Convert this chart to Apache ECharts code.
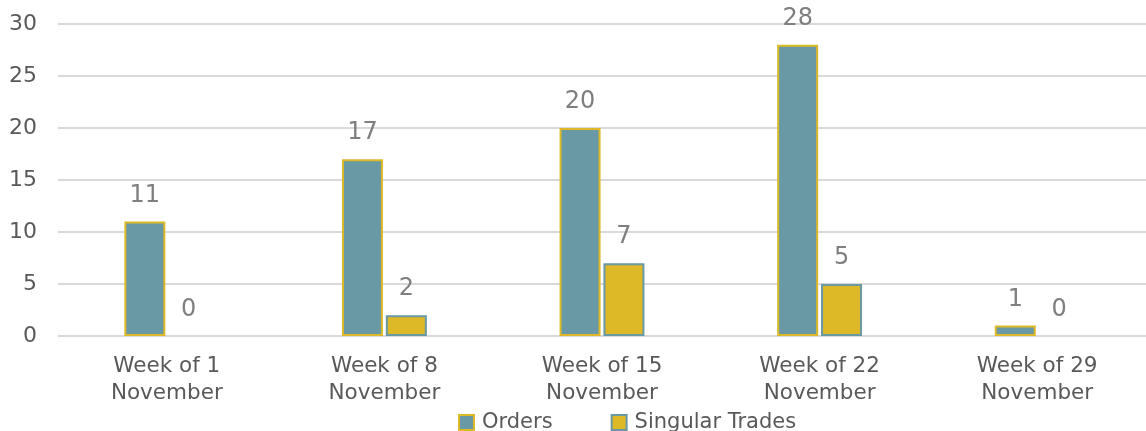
<!DOCTYPE html>
<html>
<head>
<meta charset="utf-8">
<script src="https://cdn.jsdelivr.net/npm/echarts@6/dist/echarts.min.js"></script>
<style>
  html, body { margin: 0; padding: 0; background: #fff; }
  #main { width: 1146px; height: 431px; }
</style>
</head>
<body>
<div id="main"></div>
<script>
var weeks = ['Week of 1\nNovember', 'Week of 8\nNovember', 'Week of 15\nNovember', 'Week of 22\nNovember', 'Week of 29\nNovember'];
var orders = [11, 17, 20, 28, 1];
var singularTrades = [0, 2, 7, 5, 0];
var yTicks = [0, 5, 10, 15, 20, 25, 30];

var teal = '#6899a4';
var gold = '#ddb827';
var font = 'DejaVu Sans';

// zero-height bars get no outline, like the original
function barData(values) {
    return values.map(function (v) {
        return v === 0 ? { value: v, itemStyle: { borderWidth: 0 } } : v;
    });
}

var myChart = echarts.init(document.getElementById('main'));

var option = {
    animation: false,
    textStyle: { fontFamily: font },
    grid: {
        left: 58,
        width: 1096,
        top: 24,
        bottom: 95
    },
    legend: {
        left: 453,
        top: 407,
        icon: 'rect',
        itemWidth: 15,
        itemHeight: 15,
        itemGap: 58,
        textStyle: { fontSize: 21, color: '#595959', fontFamily: font, padding: [0, 0, 0, 3] },
        data: ['Orders', 'Singular Trades']
    },
    xAxis: {
        type: 'category',
        data: weeks,
        axisLine: { show: false },
        axisTick: { show: false },
        axisLabel: {
            fontSize: 21.5,
            color: '#595959',
            lineHeight: 27,
            margin: 17,
            interval: 0
        }
    },
    yAxis: {
        type: 'value',
        min: yTicks[0],
        max: yTicks[yTicks.length - 1],
        interval: 5,
        axisLabel: { fontSize: 22, color: '#595959', margin: 21 },
        splitLine: { lineStyle: { color: '#d9d9d9', width: 2 } }
    },
    series: [
        {
            name: 'Orders',
            type: 'bar',
            data: barData(orders),
            barWidth: 41,
            barGap: '7%',
            itemStyle: { color: teal, borderColor: gold, borderWidth: 2 },
            label: { show: true, position: 'top', distance: 14, fontSize: 24, color: '#7f7f7f' }
        },
        {
            name: 'Singular Trades',
            type: 'bar',
            data: barData(singularTrades),
            barWidth: 41,
            itemStyle: { color: gold, borderColor: teal, borderWidth: 2 },
            label: { show: true, position: 'top', distance: 14, fontSize: 24, color: '#7f7f7f' }
        }
    ]
};

myChart.setOption(option);
</script>
</body>
</html>
